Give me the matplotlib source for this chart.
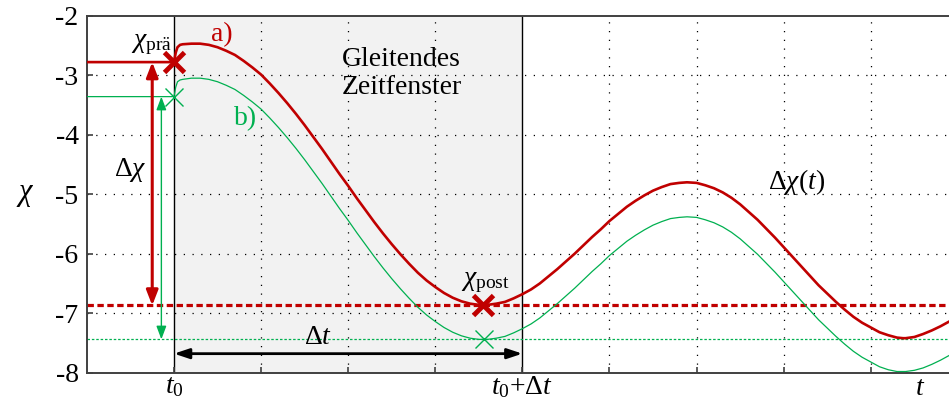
import matplotlib
matplotlib.use("Agg")
import matplotlib.pyplot as plt

plt.rcParams['font.family'] = ['Liberation Serif', 'DejaVu Serif']
plt.rcParams['mathtext.fontset'] = 'custom'
plt.rcParams['mathtext.rm'] = 'Liberation Serif'
plt.rcParams['mathtext.it'] = 'Liberation Serif:italic'
plt.rcParams['mathtext.bf'] = 'Liberation Serif:bold'
plt.rcParams['axes.unicode_minus'] = False

# ---- data ----
x_a = [0, 1.00, 1.02, 1.04, 1.07, 1.10, 1.2, 1.3, 1.4, 1.5, 1.6, 1.7, 1.8, 1.9,
       2.0, 2.1, 2.2, 2.3, 2.4, 2.5, 2.6, 2.7, 2.8, 2.9, 3.0, 3.1, 3.2, 3.3, 3.4,
       3.5, 3.6, 3.7, 3.8, 3.9, 4.0, 4.1, 4.2, 4.3, 4.4, 4.5, 4.55, 4.6, 4.7, 4.8,
       4.9, 5.0, 5.1, 5.2, 5.3, 5.4, 5.5, 5.6, 5.7, 5.8, 5.9, 6.0, 6.1, 6.2, 6.3,
       6.4, 6.5, 6.6, 6.7, 6.8, 6.89, 7.0, 7.1, 7.2, 7.3, 7.4, 7.5, 7.6, 7.7, 7.8,
       7.9, 8.0, 8.1, 8.2, 8.3, 8.4, 8.5, 8.6, 8.7, 8.8, 8.9, 9.0, 9.1, 9.2, 9.3,
       9.37, 9.4, 9.5, 9.6, 9.7, 9.8, 9.9]
y_a = [-2.78, -2.78, -2.62, -2.53, -2.49, -2.48, -2.47, -2.47, -2.49, -2.53, -2.59,
       -2.66, -2.76, -2.87, -2.99, -3.14, -3.30, -3.47, -3.65, -3.84, -4.04, -4.24,
       -4.45, -4.66, -4.86, -5.07, -5.27, -5.47, -5.66, -5.84, -6.01, -6.17, -6.32,
       -6.45, -6.56, -6.66, -6.74, -6.80, -6.84, -6.86, -6.87, -6.86, -6.84, -6.81,
       -6.75, -6.68, -6.60, -6.50, -6.38, -6.26, -6.13, -6.00, -5.86, -5.72, -5.59,
       -5.45, -5.33, -5.21, -5.11, -5.02, -4.94, -4.88, -4.83, -4.81, -4.80, -4.81,
       -4.85, -4.90, -4.97, -5.06, -5.17, -5.30, -5.43, -5.58, -5.73, -5.89, -6.05,
       -6.21, -6.37, -6.53, -6.67, -6.81, -6.94, -7.06, -7.16, -7.24, -7.32, -7.37,
       -7.41, -7.42, -7.42, -7.40, -7.35, -7.29, -7.22, -7.14]

x_b = x_a
y_b = [-3.36, -3.36, -3.20, -3.11, -3.08, -3.07, -3.05, -3.05, -3.07, -3.11, -3.17,
       -3.24, -3.34, -3.45, -3.57, -3.72, -3.88, -4.05, -4.23, -4.42, -4.62, -4.82,
       -5.03, -5.24, -5.44, -5.65, -5.85, -6.05, -6.24, -6.42, -6.59, -6.75, -6.90,
       -7.03, -7.14, -7.24, -7.32, -7.38, -7.42, -7.44, -7.44, -7.44, -7.42, -7.39,
       -7.33, -7.26, -7.18, -7.08, -6.96, -6.84, -6.71, -6.58, -6.44, -6.30, -6.17,
       -6.03, -5.91, -5.79, -5.69, -5.60, -5.52, -5.46, -5.41, -5.39, -5.38, -5.39,
       -5.43, -5.48, -5.55, -5.64, -5.75, -5.88, -6.01, -6.16, -6.31, -6.47, -6.63,
       -6.79, -6.95, -7.11, -7.25, -7.39, -7.52, -7.64, -7.74, -7.82, -7.90, -7.95,
       -7.98, -7.98, -7.98, -7.96, -7.92, -7.86, -7.79, -7.71]

t0, t1 = 1.0, 5.0
chi_pre_a, chi_post_a, t_post_a = -2.78, -6.87, 4.55
chi_pre_b, chi_post_b, t_post_b = -3.36, -7.44, 4.56
y_ticks = [-2, -3, -4, -5, -6, -7, -8]
x_grid = [1, 2, 3, 4, 5, 6, 7, 8, 9]
x_labels = ['$t_0$', '', '', '', r'$t_0{+}\mathrm{\Delta}t$', '', '', '', '']

RED = '#c00000'
GREEN = '#00b050'

fig = plt.figure(figsize=(9.49, 4.03), dpi=100)
W, H = 949, 403
left, right, bottom, top = 86.9, 949, 372.7, 15.7
ax = fig.add_axes([left / W, (H - bottom) / H, (right - left) / W, (bottom - top) / H])
ax.set_xlim(0, (right - left) / 87.1)
ax.set_ylim(-8, -2)

# shaded window
ax.axvspan(t0, t1, color='#f2f2f2', zorder=0, lw=0)
ax.axvline(t0, color='black', lw=1.0, zorder=1)
ax.axvline(t1, color='black', lw=1.0, zorder=1)

# grid
for gx in x_grid:
    if gx in (t0, t1):
        continue
    ax.axvline(gx, color='black', lw=0.9, ls=(0, (1, 6)), zorder=1)
for gy in y_ticks[1:-1]:
    ax.axhline(gy, color='black', lw=0.9, ls=(0, (1, 6)), zorder=1)

# reference levels
ax.axhline(chi_post_a, color=RED, lw=2.3, ls=(0, (2.0, 1.1)), zorder=2)
ax.axhline(chi_post_b, color=GREEN, lw=0.9, ls=(0, (2, 1.5)), zorder=2)

# curves
ax.plot(x_a, y_a, color=RED, lw=1.9, zorder=4, solid_joinstyle='round')
ax.plot(x_b, y_b, color=GREEN, lw=0.9, zorder=3, solid_joinstyle='round')

# markers
ax.plot([t0], [chi_pre_a], marker='x', ms=14, mew=3.5, color=RED, zorder=5)
ax.plot([t_post_a], [chi_post_a], marker='x', ms=14, mew=3.5, color=RED, zorder=5)
ax.plot([t0], [chi_pre_b], marker='x', ms=13, mew=1.0, color=GREEN, zorder=5)
ax.plot([t_post_b], [chi_post_b], marker='x', ms=13, mew=1.0, color=GREEN, zorder=5)

# arrows
ax.annotate('', xy=(0.75, chi_pre_a), xytext=(0.75, chi_post_a),
            arrowprops=dict(arrowstyle='<|-|>,head_length=0.9,head_width=0.35',
                            color=RED, lw=2.2, shrinkA=0, shrinkB=0), zorder=5)
ax.annotate('', xy=(0.855, chi_pre_b), xytext=(0.855, chi_post_b),
            arrowprops=dict(arrowstyle='<|-|>,head_length=0.8,head_width=0.3',
                            color=GREEN, lw=1.0, shrinkA=0, shrinkB=0), zorder=5)
ax.annotate('', xy=(t0, -7.68), xytext=(t1, -7.68),
            arrowprops=dict(arrowstyle='<|-|>,head_length=0.9,head_width=0.3',
                            color='black', lw=2.0, shrinkA=0, shrinkB=0), zorder=5)

# texts
fs = 20
ax.text(0.74, -2.49, r'$\chi_{\mathrm{prä}}$', fontsize=fs, ha='center', va='center', zorder=6)
ax.text(1.55, -2.32, 'a)', fontsize=fs, color=RED, ha='center', va='center', zorder=6)
ax.text(1.82, -3.73, 'b)', fontsize=fs, color=GREEN, ha='center', va='center', zorder=6)
ax.text(3.61, -2.97, 'Gleitendes\nZeitfenster', fontsize=fs, ha='center', va='center',
        linespacing=1.2, zorder=6)
ax.text(4.57, -6.49, r'$\chi_{\mathrm{post}}$', fontsize=fs, ha='center', va='center', zorder=6)
ax.text(0.50, -4.59, r'$\mathrm{\Delta}\chi$', fontsize=fs, ha='center', va='center', zorder=6)
ax.text(2.65, -7.40, r'$\mathrm{\Delta}t$', fontsize=fs, ha='center', va='center', zorder=6)
ax.text(8.15, -4.80, r'$\mathrm{\Delta}\chi\mathrm{(}t\mathrm{)}$', fontsize=fs,
        ha='center', va='center', zorder=6)
ax.text(9.57, -8.05, '$t$', fontsize=fs, ha='center', va='top', zorder=6)

# axes styling
ax.set_yticks(y_ticks)
ax.set_yticklabels([str(v) for v in y_ticks], fontsize=fs)
ax.set_xticks(x_grid)
ax.set_xticklabels(x_labels, fontsize=fs)
ax.tick_params(axis='both', direction='in', length=4, width=1.2, color='#404040')
ax.tick_params(axis='y', pad=6)
ax.tick_params(axis='x', pad=1)
ax.set_ylabel(r'$\chi$', fontsize=fs + 2, rotation=0, va='center', ha='center')
ax.yaxis.set_label_coords(-0.072, 0.5)
for s in ('left', 'bottom', 'top'):
    ax.spines[s].set_color('#404040')
    ax.spines[s].set_linewidth(1.4)
ax.spines['right'].set_visible(False)

fig.savefig('out.png', dpi=100)
